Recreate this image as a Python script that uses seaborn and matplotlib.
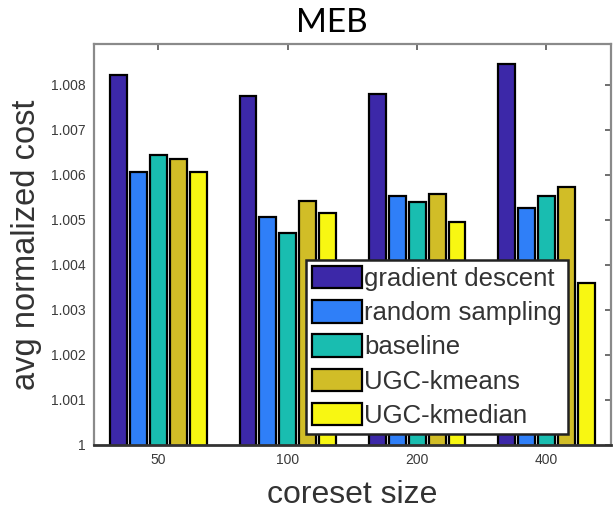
import numpy as np
import pandas as pd
import matplotlib
matplotlib.use("Agg")
import matplotlib.pyplot as plt
import matplotlib.ticker as mticker
import seaborn as sns

# Average normalized cost of the MEB solution for each coreset size
coreset_sizes = ["50", "100", "200", "400"]
methods = ["gradient descent", "random sampling", "baseline", "UGC-kmeans", "UGC-kmedian"]
gradient_descent = [1.00821, 1.00774, 1.00778, 1.00845]
random_sampling = [1.00607, 1.00506, 1.00553, 1.00526]
baseline = [1.00643, 1.00471, 1.00540, 1.00552]
ugc_kmeans = [1.00634, 1.00542, 1.00557, 1.00572]
ugc_kmedian = [1.00607, 1.00514, 1.00495, 1.00360]
colors = ["#3c28a8", "#2f7ff8", "#19bdb0", "#d1bd27", "#f8f712"]

series = [gradient_descent, random_sampling, baseline, ugc_kmeans, ugc_kmedian]
df = pd.DataFrame(
    [(size, m, v) for m, vals in zip(methods, series) for size, v in zip(coreset_sizes, vals)],
    columns=["coreset size", "method", "cost"],
)

sns.set_theme(style="white")
plt.rcParams["font.family"] = ["Liberation Sans", "DejaVu Sans"]

fig = plt.figure(figsize=(6.13, 5.12), dpi=100)
ax = fig.add_axes([0.153, 0.131, 0.844, 0.783])

sns.barplot(
    data=df, x="coreset size", y="cost", hue="method",
    order=coreset_sizes, hue_order=methods, palette=colors,
    width=0.77, gap=0.15, edgecolor="black", linewidth=1.6,
    saturation=1, errorbar=None, ax=ax,
)

ax.set_xlim(-0.5, 3.5)
ax.set_ylim(1.0, 1.0089)
yt = np.round(np.arange(1.0, 1.0085, 0.001), 3)
ax.set_yticks(yt)
ax.yaxis.set_major_formatter(mticker.FuncFormatter(lambda v, p: f"{v:g}"))

ax.tick_params(axis="both", which="major", direction="in", length=4, width=1.2,
               colors="#555555", labelcolor="#3a3a3a", labelsize=10,
               top=True, right=True, pad=6)
for side in ["left", "top", "right"]:
    ax.spines[side].set_color("#8a8a8a")
    ax.spines[side].set_linewidth(1.6)
ax.spines["bottom"].set_color("#333333")
ax.spines["bottom"].set_linewidth(2)

ax.set_xlabel("coreset size", fontsize=23, color="#333333", labelpad=9)
ax.set_ylabel("avg normalized cost", fontsize=23.5, color="#333333", labelpad=6)

leg = ax.legend(
    loc="lower left", bbox_to_anchor=(0.41, 0.028), fontsize=18.5,
    frameon=True, fancybox=False, framealpha=1, edgecolor="#222222",
    handlelength=1.95, handleheight=0.97, handletextpad=0.1,
    labelspacing=0.36, borderpad=0.22, borderaxespad=0,
)
leg.get_frame().set_linewidth(1.8)
for t in leg.get_texts():
    t.set_color("#333333")

fig.text(0.542, 0.955, "MEB", ha="center", va="center", fontsize=24,
         family=["Lato", "DejaVu Sans"], color="black")

fig.savefig("out.png", dpi=100)
